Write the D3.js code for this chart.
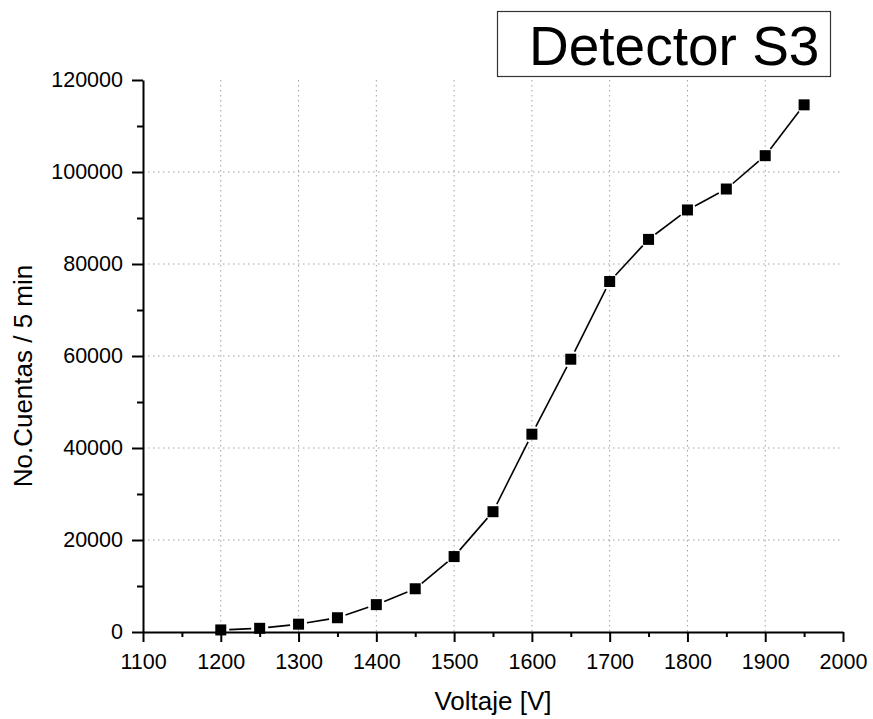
<!DOCTYPE html>
<html>
<head>
<meta charset="utf-8">
<script src="https://cdn.jsdelivr.net/npm/d3@7/dist/d3.min.js"></script>
<style>
  html, body { margin: 0; padding: 0; background: #fff; }
  svg { display: block; font-family: "Liberation Sans", Arial, sans-serif; }
</style>
</head>
<body>
<svg id="chart" width="873" height="719"></svg>
<script>
// Detector S3 plateau curve: counts per 5 minutes vs. applied voltage
const voltages = [1200, 1250, 1300, 1350, 1400, 1450, 1500, 1550, 1600, 1650, 1700, 1750, 1800, 1850, 1900, 1950];
const counts   = [450, 800, 1700, 3100, 5950, 9400, 16400, 26150, 43000, 59300, 76200, 85350, 91750, 96300, 103550, 114600];

const xMajorTicks = [1100, 1200, 1300, 1400, 1500, 1600, 1700, 1800, 1900, 2000];
const yMajorTicks = [0, 20000, 40000, 60000, 80000, 100000, 120000];
const titleText = "Detector S3";
const xTitle = "Voltaje [V]";
const yTitle = "No.Cuentas / 5 min";

const svg = d3.select("#chart");
const plotL = 143, plotR = 843, plotT = 80, plotB = 632;

const x = d3.scaleLinear().domain([1100, 2000]).range([plotL, plotR]);
const y = d3.scaleLinear().domain([0, 120000]).range([plotB, plotT]);

const points = voltages.map((v, i) => ({ v, c: counts[i] }));

// dotted grid
const grid = svg.append("g").attr("stroke", "#a0a0a0").attr("stroke-width", 1)
  .attr("stroke-dasharray", "1.5,3.5");
grid.selectAll("line.v").data(xMajorTicks.slice(1, -1)).join("line").attr("class", "v")
  .attr("x1", d => x(d)).attr("x2", d => x(d))
  .attr("y1", plotT).attr("y2", plotB);
grid.selectAll("line.h").data(yMajorTicks.slice(1, -1)).join("line").attr("class", "h")
  .attr("x1", plotL).attr("x2", plotR)
  .attr("y1", d => y(d)).attr("y2", d => y(d));

// minor ticks
const xMinor = d3.range(1150, 2000, 100);
const yMinor = d3.range(10000, 120000, 20000);
svg.append("g").attr("transform", `translate(0,${plotB})`)
  .call(d3.axisBottom(x).tickValues(xMinor).tickSize(5).tickFormat(""))
  .call(g => g.select(".domain").remove())
  .selectAll("line").attr("stroke", "#000").attr("stroke-width", 2);
svg.append("g").attr("transform", `translate(${plotL},0)`)
  .call(d3.axisLeft(y).tickValues(yMinor).tickSize(6).tickFormat(""))
  .call(g => g.select(".domain").remove())
  .selectAll("line").attr("stroke", "#000").attr("stroke-width", 2);

// major axes
const xAxis = svg.append("g").attr("transform", `translate(0,${plotB})`)
  .call(d3.axisBottom(x).tickValues(xMajorTicks).tickSize(10).tickPadding(12).tickSizeOuter(0).tickFormat(d3.format("d")));
const yAxis = svg.append("g").attr("transform", `translate(${plotL},0)`)
  .call(d3.axisLeft(y).tickValues(yMajorTicks).tickSize(11).tickPadding(9).tickSizeOuter(0).tickFormat(d3.format("d")));
[xAxis, yAxis].forEach(a => {
  a.select(".domain").attr("stroke", "#000").attr("stroke-width", 2);
  a.selectAll(".tick line").attr("stroke", "#000").attr("stroke-width", 2);
  a.selectAll(".tick text").attr("fill", "#000")
    .style("font-size", "21.5px").style("font-family", "'Liberation Sans', Arial, sans-serif");
});

// connecting segments, stopping short of each marker
const gap = 8.5;
const segs = d3.pairs(points).map(([a, b]) => {
  const x1 = x(a.v), y1 = y(a.c), x2 = x(b.v), y2 = y(b.c);
  const len = Math.hypot(x2 - x1, y2 - y1);
  const ux = (x2 - x1) / len, uy = (y2 - y1) / len;
  return { x1: x1 + ux * gap, y1: y1 + uy * gap, x2: x2 - ux * gap, y2: y2 - uy * gap };
});
svg.append("g").selectAll("line").data(segs).join("line")
  .attr("x1", d => d.x1).attr("y1", d => d.y1)
  .attr("x2", d => d.x2).attr("y2", d => d.y2)
  .attr("stroke", "#000").attr("stroke-width", 1.6);

// square markers
const ms = 11;
svg.append("g").selectAll("rect").data(points).join("rect")
  .attr("x", d => x(d.v) - ms / 2).attr("y", d => y(d.c) - ms / 2)
  .attr("width", ms).attr("height", ms).attr("fill", "#000");

// axis titles
svg.append("text").attr("x", (plotL + plotR) / 2).attr("y", 710)
  .attr("text-anchor", "middle").style("font-size", "26px").attr("fill", "#000")
  .text(xTitle);
svg.append("text").attr("transform", `translate(32,376) rotate(-90)`)
  .attr("text-anchor", "middle").style("font-size", "26px").attr("fill", "#000")
  .text(yTitle);

// title box
svg.append("rect").attr("x", 497.5).attr("y", 11.5).attr("width", 333).attr("height", 65)
  .attr("fill", "#fff").attr("stroke", "#333").attr("stroke-width", 1.2);
svg.append("text").attr("x", 529).attr("y", 65)
  .style("font-size", "55px").attr("fill", "#000").text(titleText);
</script>
</body>
</html>
